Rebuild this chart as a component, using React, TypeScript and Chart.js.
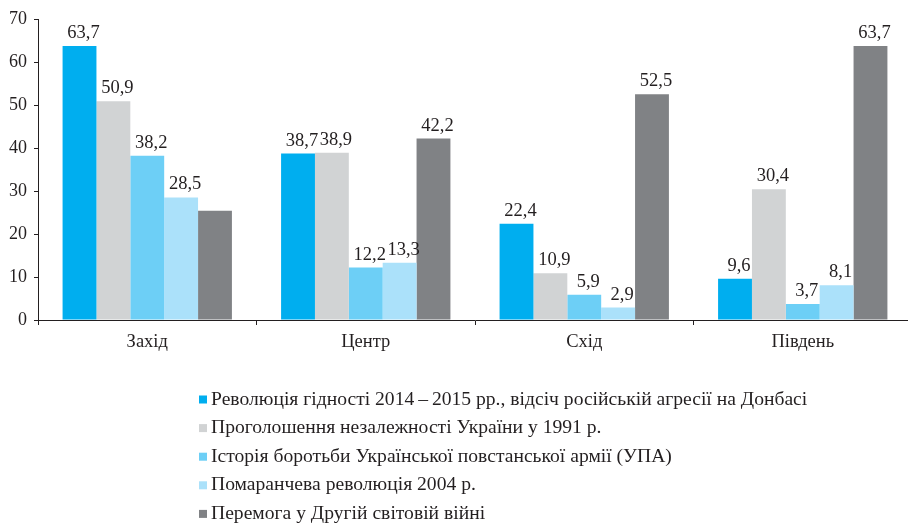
import React, { useEffect, useRef } from "react";
import { Chart, registerables } from "chart.js";

Chart.register(...registerables);

const categories = ["Захід", "Центр", "Схід", "Південь"];
const seriesNames = [
  "Революція гідності 2014\u2009\u2013\u20092015 рр., відсіч російській агресії на Донбасі",
  "Проголошення незалежності України у 1991 р.",
  "Історія боротьби Української повстанської армії (УПА)",
  "Помаранчева революція 2004 р.",
  "Перемога у Другій світовій війні",
];
const revolutionValues = [63.7, 38.7, 22.4, 9.6];
const independenceValues = [50.9, 38.9, 10.9, 30.4];
const upaValues = [38.2, 12.2, 5.9, 3.7];
const orangeValues = [28.5, 13.3, 2.9, 8.1];
const victoryValues = [25.4, 42.2, 52.5, 63.7];
const victoryLabelShown = [false, true, true, true];
const allShown = [true, true, true, true];
const seriesColors = ["#00AEEF", "#D1D3D4", "#6DCFF6", "#ABE1FA", "#808285"];
const yMin = 0;
const yMax = 70;
const yStep = 10;

const FONT = "'Liberation Serif', 'Times New Roman', serif";
const TEXT = "#231f20";

const valueLabelPlugin = {
  id: "valueLabels",
  afterDatasetsDraw(chart: any) {
    const ctx = chart.ctx;
    ctx.save();
    ctx.font = `18.5px ${FONT}`;
    ctx.fillStyle = TEXT;
    ctx.textAlign = "center";
    ctx.textBaseline = "alphabetic";
    chart.data.datasets.forEach((ds: any, di: number) => {
      const meta = chart.getDatasetMeta(di);
      meta.data.forEach((bar: any, i: number) => {
        if (!ds.showLabels[i]) return;
        const txt = String(ds.data[i].toFixed(1)).replace(".", ",");
        ctx.fillText(txt, bar.x + 4, bar.y - 8);
      });
    });
    ctx.restore();
  },
};

const legendPlugin = {
  id: "listLegend",
  afterDraw(chart: any) {
    const ctx = chart.ctx;
    ctx.save();
    ctx.font = `19.6px ${FONT}`;
    ctx.textAlign = "left";
    ctx.textBaseline = "middle";
    chart.data.datasets.forEach((ds: any, i: number) => {
      const y = 399.5 + i * 28.6;
      ctx.fillStyle = ds.backgroundColor;
      ctx.fillRect(199, y - 4, 8, 8);
      ctx.fillStyle = TEXT;
      ctx.fillText(ds.label, 211, y);
    });
    ctx.restore();
  },
};

export default function App() {
  const ref = useRef<HTMLCanvasElement | null>(null);
  useEffect(() => {
    if (!ref.current) return;
    const seriesData = [revolutionValues, independenceValues, upaValues, orangeValues, victoryValues];
    const shown = [allShown, allShown, allShown, allShown, victoryLabelShown];
    const chart = new Chart(ref.current, {
      type: "bar",
      data: {
        labels: categories,
        datasets: seriesNames.map((name, i) => ({
          label: name,
          data: seriesData[i],
          backgroundColor: seriesColors[i],
          borderWidth: 0,
          barPercentage: 1,
          categoryPercentage: 0.775,
          showLabels: shown[i],
        })) as any,
      },
      options: {
        animation: false,
        responsive: false,
        devicePixelRatio: 1,
        layout: { padding: { top: 19, right: 8, left: 0, bottom: 0 } },
        plugins: {
          legend: { display: false },
          tooltip: { enabled: false },
        },
        scales: {
          x: {
            grid: {
              display: true,
              drawOnChartArea: false,
              drawTicks: true,
              tickLength: 5,
              color: TEXT,
              offset: true,
            },
            border: { display: true, color: TEXT, width: 1 },
            ticks: {
              color: TEXT,
              font: { family: FONT, size: 18.5 },
              padding: 6,
            },
            afterFit(scale: any) {
              scale.height = 204;
            },
          },
          y: {
            min: yMin,
            max: yMax,
            grid: {
              display: true,
              drawOnChartArea: false,
              drawTicks: true,
              tickLength: 4,
              color: TEXT,
            },
            border: { display: true, color: TEXT, width: 1 },
            ticks: {
              stepSize: yStep,
              color: TEXT,
              font: { family: FONT, size: 18 },
              padding: 7,
            },
            afterFit(scale: any) {
              scale.width = 38;
            },
          },
        },
      } as any,
      plugins: [valueLabelPlugin, legendPlugin],
    });
    return () => chart.destroy();
  }, []);
  return (
    <div
      style={{
        position: "fixed",
        left: 0,
        top: 0,
        width: 908,
        height: 524,
        overflow: "hidden",
        background: "#fff",
      }}
    >
      <canvas ref={ref} width={920} height={524} style={{ width: 920, height: 524, display: "block" }} />
    </div>
  );
}
